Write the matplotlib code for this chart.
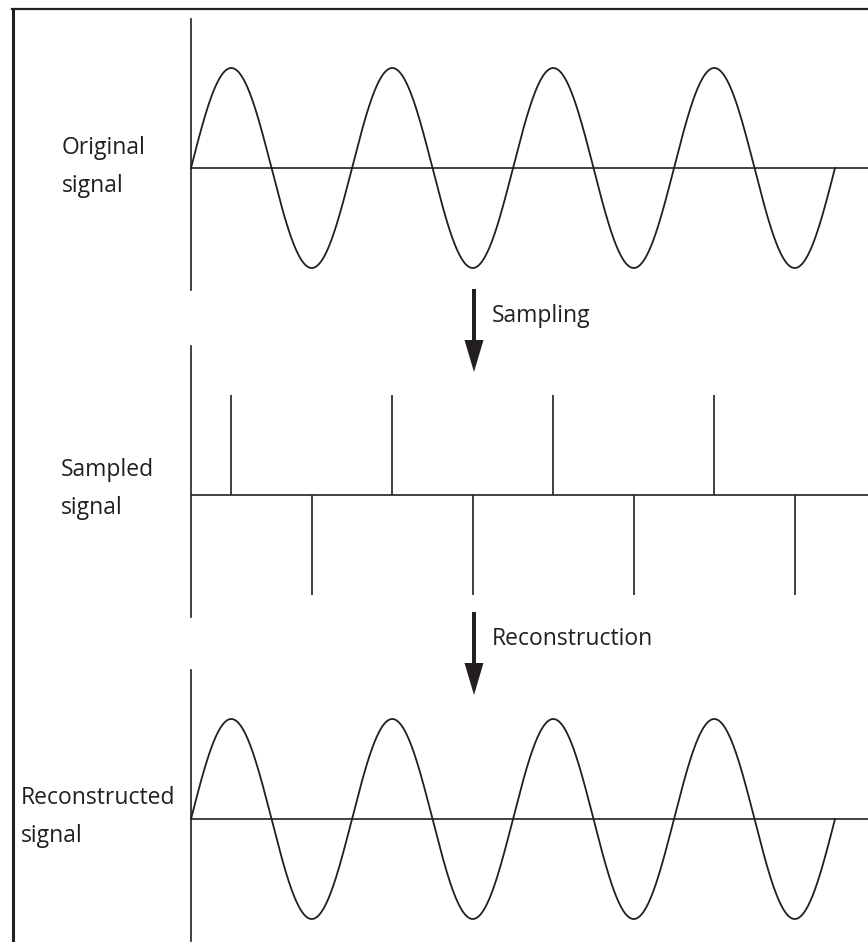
import numpy as np
import matplotlib
matplotlib.use("Agg")
import matplotlib.pyplot as plt
from matplotlib.lines import Line2D

# diagram content
n_cycles = 4
sample_times = [0.25, 0.75, 1.25, 1.75, 2.25, 2.75, 3.25, 3.75]
sample_values = [1, -1, 1, -1, 1, -1, 1, -1]
panel_labels = ["Original\nsignal", "Sampled\nsignal", "Reconstructed\nsignal"]
step_labels = ["Sampling", "Reconstruction"]

ink = "#231f20"
plt.rcParams["font.family"] = ["Open Sans", "DejaVu Sans"]

W, H = 868, 942
fig = plt.figure(figsize=(W / 100, H / 100), dpi=100)

t = np.linspace(0, n_cycles, 1200)
wave = np.sin(2 * np.pi * t)

# panel placement in pixels (top, bottom)
panel_rows = [(19, 290), (346, 617), (670, 941)]
x0_px, cycle_px, amp_px = 191, 161, 100

axes = []
for top, bot in panel_rows:
    ax = fig.add_axes([x0_px / W, 1 - bot / H, (W - x0_px) / W, (bot - top) / H])
    ax.set_xlim(0, (W - x0_px) / cycle_px)
    zero_px = top + 149
    ax.set_ylim(-(bot - zero_px) / amp_px, (zero_px - top) / amp_px)
    for s in ["top", "right", "bottom"]:
        ax.spines[s].set_visible(False)
    ax.spines["left"].set_linewidth(1.2)
    ax.spines["left"].set_color(ink)
    ax.set_xticks([])
    ax.set_yticks([])
    ax.patch.set_visible(False)
    ax.axhline(0, color=ink, lw=1.2)
    axes.append(ax)

axes[0].plot(t, wave, color=ink, lw=1.3, clip_on=False)
axes[1].vlines(sample_times, 0, sample_values, color=ink, lw=1.2)
axes[2].plot(t, wave, color=ink, lw=1.3, clip_on=False)

# overlay in pixel coordinates for labels, arrows and frame
ov = fig.add_axes([0, 0, 1, 1])
ov.set_xlim(0, W)
ov.set_ylim(H, 0)
ov.axis("off")
ov.patch.set_visible(False)

# baseline of the last line of each label
label_pos = [(62, 192), (61, 514), (21, 842)]
for (lx, ly), txt in zip(label_pos, panel_labels):
    ov.text(lx, ly, txt, fontsize=16.5, color=ink, va="baseline", ha="left",
            linespacing=1.75)

arrow_rows = [(289, 372), (612, 695)]
for (a, b), txt in zip(arrow_rows, step_labels):
    ov.arrow(474, a, 0, b - a, width=4, head_width=19, head_length=32,
             length_includes_head=True, fc=ink, ec="none")
    ov.text(492, a + 33, txt, fontsize=16.5, color=ink, va="baseline", ha="left")

# outer frame (cut off on the right and bottom)
ov.add_line(Line2D([12.5, 12.5], [9, H], color=ink, lw=2.2))
ov.add_line(Line2D([11.5, W], [9, 9], color=ink, lw=1.6))

fig.savefig("out.png", dpi=100)
